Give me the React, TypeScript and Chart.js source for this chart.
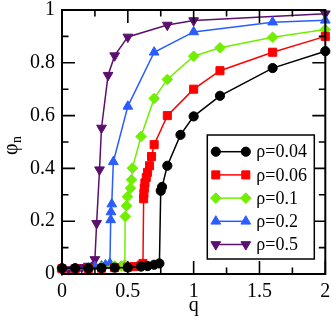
import React, { useEffect, useRef } from 'react';
import { Chart, registerables } from 'chart.js';

Chart.register(...registerables);

// ---- data ----
const xTickValues = [0, 0.5, 1, 1.5, 2];
const xTickLabels = ['0', '0.5', '1', '1.5', '2'];
const yTickValues = [0, 0.2, 0.4, 0.6, 0.8, 1];
const yTickLabels = ['0', '0.2', '0.4', '0.6', '0.8', '1'];
const xMinorStep = 0.25;
const yMinorStep = 0.1;

const seriesLabels = ['ρ=0.04', 'ρ=0.06', 'ρ=0.1', 'ρ=0.2', 'ρ=0.5'];

const qRho004 = [0, 0.1, 0.2, 0.3, 0.4, 0.5, 0.6, 0.65, 0.7, 0.74, 0.75, 0.76, 0.8, 0.9, 1.0, 1.2, 1.6, 2.0];
const phiRho004 = [0.022, 0.022, 0.022, 0.023, 0.024, 0.025, 0.028, 0.03, 0.035, 0.04, 0.315, 0.33, 0.41, 0.527, 0.597, 0.675, 0.78, 0.844];

const qRho006 = [0, 0.1, 0.2, 0.3, 0.4, 0.5, 0.55, 0.6, 0.615, 0.62, 0.622, 0.625, 0.63, 0.64, 0.65, 0.665, 0.68, 0.7, 0.8, 1.0, 1.2, 1.6, 2.0];
const phiRho006 = [0.02, 0.02, 0.021, 0.022, 0.024, 0.026, 0.028, 0.033, 0.04, 0.285, 0.305, 0.325, 0.345, 0.365, 0.385, 0.41, 0.445, 0.49, 0.6, 0.7, 0.77, 0.84, 0.9];

const qRho01 = [0, 0.1, 0.2, 0.3, 0.4, 0.45, 0.477, 0.48, 0.49, 0.497, 0.52, 0.528, 0.535, 0.6, 0.7, 0.8, 1.0, 1.2, 1.6, 2.0];
const phiRho01 = [0.02, 0.02, 0.022, 0.025, 0.03, 0.03, 0.035, 0.218, 0.258, 0.293, 0.325, 0.357, 0.401, 0.521, 0.665, 0.737, 0.825, 0.857, 0.897, 0.926];

const qRho02 = [0, 0.1, 0.2, 0.25, 0.3, 0.33, 0.364, 0.37, 0.372, 0.378, 0.39, 0.5, 0.7, 1.0, 1.6, 2.0];
const phiRho02 = [0.02, 0.02, 0.022, 0.028, 0.03, 0.034, 0.04, 0.205, 0.235, 0.265, 0.425, 0.635, 0.84, 0.917, 0.954, 0.961];

const qRho05 = [0, 0.05, 0.1, 0.15, 0.2, 0.25, 0.263, 0.285, 0.3, 0.35, 0.4, 0.5, 0.8, 1.0, 2.0];
const phiRho05 = [0.015, 0.017, 0.02, 0.025, 0.03, 0.055, 0.192, 0.395, 0.553, 0.753, 0.827, 0.898, 0.943, 0.96, 0.986];

const seriesQ = [qRho004, qRho006, qRho01, qRho02, qRho05];
const seriesPhi = [phiRho004, phiRho006, phiRho01, phiRho02, phiRho05];

// ---- styles ----
const seriesColors = ['#000000', '#ff0000', '#70f000', '#2a5cff', '#5b0f6e'];
const seriesPointStyles = ['circle', 'rect', 'rectRot', 'triangle', 'triangle'];
const seriesPointRadius = [4.6, 5.7, 5.3, 5.6, 5.6];
const seriesPointRotation = [0, 0, 0, 0, 180];

const FONT = '"Liberation Serif", "Times New Roman", serif';

function drawMarker(ctx: CanvasRenderingContext2D, style: string, x: number, y: number, r: number, rot: number, color: string) {
  ctx.save();
  ctx.fillStyle = color;
  ctx.strokeStyle = color;
  ctx.lineWidth = 1;
  ctx.beginPath();
  if (style === 'circle') {
    ctx.arc(x, y, r, 0, Math.PI * 2);
  } else if (style === 'rect') {
    const s = r * Math.SQRT1_2;
    ctx.rect(x - s, y - s, 2 * s, 2 * s);
  } else if (style === 'rectRot') {
    ctx.moveTo(x - r, y);
    ctx.lineTo(x, y - r);
    ctx.lineTo(x + r, y);
    ctx.lineTo(x, y + r);
    ctx.closePath();
  } else {
    let a = (rot * Math.PI) / 180;
    ctx.moveTo(x + Math.sin(a) * r, y - Math.cos(a) * r);
    a += (2 * Math.PI) / 3;
    ctx.lineTo(x + Math.sin(a) * r, y - Math.cos(a) * r);
    a += (2 * Math.PI) / 3;
    ctx.lineTo(x + Math.sin(a) * r, y - Math.cos(a) * r);
    ctx.closePath();
  }
  ctx.fill();
  ctx.stroke();
  ctx.restore();
}

function drawFrame(chart: any) {
  const { ctx, chartArea } = chart;
  const { left, right, top, bottom } = chartArea;
  const xs = chart.scales.x;
  const ys = chart.scales.y;
  ctx.save();
  ctx.strokeStyle = '#000';
  ctx.lineWidth = 1.6;
  const major = 13;
  const minor = 6.5;
  ctx.beginPath();
  const xMax = xTickValues[xTickValues.length - 1];
  for (let i = 0; i * xMinorStep <= xMax + 1e-9; i++) {
    const v = i * xMinorStep;
    const isMajor = xTickValues.some((t) => Math.abs(t - v) < 1e-9);
    const len = isMajor ? major : minor;
    const px = xs.getPixelForValue(v);
    ctx.moveTo(px, bottom);
    ctx.lineTo(px, bottom - len);
    ctx.moveTo(px, top);
    ctx.lineTo(px, top + len);
  }
  const yMax = yTickValues[yTickValues.length - 1];
  for (let i = 0; i * yMinorStep <= yMax + 1e-9; i++) {
    const v = i * yMinorStep;
    const isMajor = yTickValues.some((t) => Math.abs(t - v) < 1e-9);
    const len = isMajor ? major : minor;
    const py = ys.getPixelForValue(v);
    ctx.moveTo(left, py);
    ctx.lineTo(left + len, py);
    ctx.moveTo(right, py);
    ctx.lineTo(right - len, py);
  }
  ctx.stroke();
  ctx.lineWidth = 2;
  ctx.strokeRect(left, top, right - left, bottom - top);
  ctx.restore();
}

const framePlugin = {
  id: 'frameTicks',
  afterDraw(chart: any) {
    drawFrame(chart);
    const { ctx, chartArea } = chart;
    // y-axis title: φ with subscript n
    ctx.save();
    ctx.fillStyle = '#000';
    ctx.translate(chartArea.left - 45, (chartArea.top + chartArea.bottom) / 2 + 13);
    ctx.rotate(-Math.PI / 2);
    ctx.textAlign = 'left';
    ctx.textBaseline = 'alphabetic';
    ctx.font = `20px ${FONT}`;
    ctx.fillText('φ', 0, 0);
    const w = ctx.measureText('φ').width;
    ctx.font = `14px ${FONT}`;
    ctx.fillText('n', w + 0.5, 3.5);
    ctx.restore();

    // legend
    const boxRight = chartArea.right - 11;
    const boxBottom = chartArea.bottom - 15;
    const boxW = 107;
    const rowH = 23.2;
    const boxH = 124;
    const boxLeft = boxRight - boxW;
    const boxTop = boxBottom - boxH;
    ctx.save();
    ctx.fillStyle = '#fff';
    ctx.fillRect(boxLeft, boxTop, boxW, boxH);
    ctx.strokeStyle = '#000';
    ctx.lineWidth = 1.5;
    ctx.strokeRect(boxLeft, boxTop, boxW, boxH);
    chart.data.datasets.forEach((ds: any, i: number) => {
      const y = boxTop + 16.7 + i * rowH;
      const x1 = boxLeft + 8.5;
      const x2 = boxLeft + 38.5;
      ctx.strokeStyle = ds.borderColor;
      ctx.lineWidth = 1.5;
      ctx.beginPath();
      ctx.moveTo(x1, y);
      ctx.lineTo(x2, y);
      ctx.stroke();
      drawMarker(ctx, ds.pointStyle, x1, y, ds.pointRadius, ds.pointRotation, ds.borderColor);
      drawMarker(ctx, ds.pointStyle, x2, y, ds.pointRadius, ds.pointRotation, ds.borderColor);
      ctx.fillStyle = '#000';
      ctx.font = `18px ${FONT}`;
      ctx.textAlign = 'left';
      ctx.textBaseline = 'middle';
      ctx.fillText(ds.label, boxLeft + 49, y + 1);
    });
    ctx.restore();
  },
};

function zeroPadding(s: any) {
  s.paddingTop = 0;
  s.paddingBottom = 0;
  s.paddingLeft = 0;
  s.paddingRight = 0;
}

export default function App() {
  const canvasRef = useRef<HTMLCanvasElement | null>(null);

  useEffect(() => {
    document.body.style.margin = '0';
    const canvas = canvasRef.current;
    if (!canvas) return;
    const datasets = seriesLabels.map((label, i) => ({
      label,
      data: seriesQ[i].map((q, j) => ({ x: q, y: seriesPhi[i][j] })),
      showLine: true,
      borderColor: seriesColors[i],
      backgroundColor: seriesColors[i],
      borderWidth: 1.5,
      pointStyle: seriesPointStyles[i],
      pointRadius: seriesPointRadius[i],
      pointRotation: seriesPointRotation[i],
      pointBorderWidth: 1,
      pointBorderColor: seriesColors[i],
      pointBackgroundColor: seriesColors[i],
      tension: 0,
      clip: false,
    }));
    const tickFont = { family: FONT, size: 20, lineHeight: 1 };
    const chart = new Chart(canvas, {
      type: 'scatter',
      data: { datasets: datasets as any },
      options: {
        animation: false,
        responsive: false,
        devicePixelRatio: 1,
        events: [],
        layout: { padding: { top: 10, right: 6, left: 0, bottom: 0 } },
        plugins: { legend: { display: false }, tooltip: { enabled: false } },
        scales: {
          x: {
            type: 'linear',
            min: xTickValues[0],
            max: xTickValues[xTickValues.length - 1],
            afterFit: (s: any) => { s.height = 50; zeroPadding(s); },
            afterBuildTicks: (s: any) => { s.ticks = xTickValues.map((v) => ({ value: v })); },
            grid: { display: false, drawTicks: false },
            border: { display: false },
            ticks: {
              color: '#000',
              font: tickFont,
              padding: 8,
              maxRotation: 0,
              autoSkip: false,
              callback: (_v: any, i: number) => xTickLabels[i],
            },
            title: {
              display: true,
              text: 'q',
              color: '#000',
              font: { family: FONT, size: 20, lineHeight: 1.2 },
              padding: { top: 0, bottom: 6 },
            },
          },
          y: {
            type: 'linear',
            min: yTickValues[0],
            max: yTickValues[yTickValues.length - 1],
            afterFit: (s: any) => { s.width = 62; zeroPadding(s); },
            afterBuildTicks: (s: any) => { s.ticks = yTickValues.map((v) => ({ value: v })); },
            grid: { display: false, drawTicks: false },
            border: { display: false },
            ticks: {
              color: '#000',
              font: tickFont,
              padding: 7,
              autoSkip: false,
              callback: (_v: any, i: number) => yTickLabels[i],
            },
          },
        },
      },
      plugins: [framePlugin],
    });
    return () => chart.destroy();
  }, []);

  return (
    <div style={{ width: 332, height: 324 }}>
      <canvas ref={canvasRef} width={332} height={324} style={{ display: 'block', width: 332, height: 324 }} />
    </div>
  );
}
